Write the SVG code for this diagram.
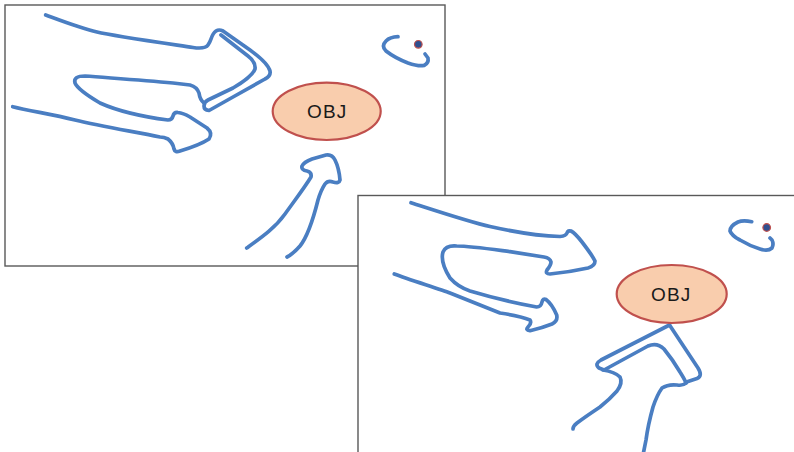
<svg xmlns="http://www.w3.org/2000/svg" width="794" height="452" viewBox="0 0 794 452">
<style>
.frame{fill:#fff;stroke:#595959;stroke-width:1.4}
.ln{fill:none;stroke:#4a7ec2;stroke-width:3.7;stroke-linecap:round;stroke-linejoin:round}
.obj{fill:#f9cdad;stroke:#c0504d;stroke-width:2.2}
.lbl{font-family:"Liberation Sans",Arial,sans-serif;font-size:19px;fill:#1a1a1a;text-anchor:middle;letter-spacing:1.2px}
.dot{fill:#2f4f8f;stroke:#c0504d;stroke-width:1.2}
</style>
<rect class="frame" x="5" y="5" width="440" height="261"/>
<g id="connectors1">
<path class="ln" d="M45.7,15 C62,21 80,28 97,32 S170,44 193,47.5 C200,48.5 206,48 208,45 Q210,42 211,39 Q213,33 216,31 Q219,29 223,31 L250,50 Q268,63 270,71 Q271,76 265,79 L233,97 L209,110.5 Q204,110 204,106 Q204,102 208,100 L233,88 Q252,77 255,69 Q256,62 248,56 L221,35"/>
<path class="ln" d="M204,103 Q200,100 199,93 Q197,87 190,85 L173,83 C140,80 110,78 85,76 Q73,76 75,83 Q78,90 100,103 C120,112 145,117 168,120 Q172,120 173,116 Q174,112 178,112.5 Q183,113 190,117 L207,128 Q213,133 209,139 Q200,145 180,151 Q175,153 174,149 Q173,143 168,139 Q164,137 160,137 C130,131 100,126 75,120 S30,111 12.7,106.7"/>
<path class="ln" d="M246.7,248 C262,237 275,228 285,214 S305,187 311,177 Q312,172 307,171 Q301,170 302,166 Q304,162 312,159 L326,155 Q332,154 335,160 Q339,168 340,180 Q339,184 333,182 Q328,180 325,184 Q321,190 318,200 C313,220 308,236 300,246 Q293,254 287,257"/>
</g>
<g id="obj1">
<ellipse class="obj" cx="326.7" cy="111.3" rx="54" ry="28.7"/>
<text class="lbl" x="327.3" y="118">OBJ</text>
</g>
<g id="eye1">
<path class="ln" d="M398,36.7 Q390,37 386,41 Q381,46 386,51 Q395,58 408,63 Q418,66.5 424,65.5 Q429,63 428,58 L425,54"/>
<circle class="dot" cx="418.3" cy="44.3" r="3.8"/>
</g>
<rect class="frame" x="358" y="195.5" width="445" height="270"/>
<g id="connectors2">
<path class="ln" d="M411,202.7 C440,212 470,222 490,226.5 C510,231 540,236 560,236.5 Q566,236 567,233 Q568,230 571,231 Q575,233 582,242 Q592,255 595,261 Q595,266 588,268 Q570,272 550,274 Q545,274 547,270 Q551,265 551,262 Q550,258 544,257 L510,251.7 C490,249 470,246 456.7,246 Q446,245 443,252 Q440,262 450,278 Q458,287 470,291 C490,297 515,303 536.7,307 Q541,307 542,302 Q543,298 546,299.5 Q552,304 556.7,315 Q558,321 552,324 Q542,328 530,330.7 Q525,330 528,327 Q532,323 530,320 Q520,316 500,313 C480,305 460,297 450,293 S410,280 394.3,274"/>
<path class="ln" d="M669.5,325 L601,360 Q594,364 599,368 L604,370 L648,346 Q657,342 664,349 Q673,360 680,372 Q685,380 686,383"/>
<path class="ln" d="M669.5,325 L698,368 Q703,376 697,378.5 L686.5,382"/>
<path class="ln" d="M603,370 Q615,372 620,377 Q623,383 617,391 Q610,399 600,407 Q585,417 577,423 Q573,426 573,429"/>
<path class="ln" d="M686,383 Q683,386 677,385 Q668,384 662,388 Q657,395 653,407 Q648,425 646,440 L643,455"/>
</g>
<g id="obj2">
<ellipse class="obj" cx="671.7" cy="294" rx="55" ry="29"/>
<text class="lbl" x="671.3" y="300.7">OBJ</text>
</g>
<g id="eye2">
<path class="ln" d="M751.7,221.7 Q743,220 738,222 Q730,226 730,231 Q732,236 740,240 Q750,246 760,249 Q768,251.5 772,248 Q774,244 772,240 L770,238"/>
<circle class="dot" cx="766.7" cy="227.5" r="3.8"/>
</g>
</svg>
